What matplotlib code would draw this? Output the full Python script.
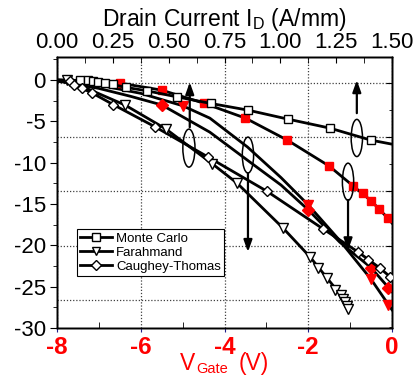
import matplotlib.pyplot as plt
from matplotlib.patches import Ellipse
from matplotlib.lines import Line2D
from matplotlib.ticker import MultipleLocator, FormatStrFormatter

plt.rcParams['font.family'] = ['Liberation Sans', 'DejaVu Sans']
plt.rcParams['mathtext.default'] = 'regular'
plt.rcParams['axes.unicode_minus'] = False

# --- against drain current (top axis, A/mm), open symbols ---
mc_i = [0.103, 0.139, 0.161, 0.184, 0.215, 0.251, 0.309, 0.402, 0.536, 0.688, 0.855, 1.034, 1.222, 1.405]
mc_iy = [0.0, 0.0, -0.12, -0.2, -0.33, -0.52, -0.88, -1.29, -2.02, -2.82, -3.63, -4.72, -5.81, -7.26]
mc_i_line = [0.0, 0.103, 0.215, 0.309, 0.402, 0.536, 0.688, 0.855, 1.034, 1.222, 1.405, 1.5]
mc_iy_line = [-0.1, 0.0, -0.33, -0.88, -1.29, -2.02, -2.82, -3.63, -4.72, -5.81, -7.26, -7.75]

fa_i = [0.045, 0.305, 0.487, 0.694, 0.806, 1.012, 1.133, 1.169, 1.209, 1.245, 1.27, 1.28, 1.29, 1.297, 1.303]
fa_iy = [0.0, -3.02, -5.9, -10.1, -12.46, -17.9, -21.4, -22.7, -23.95, -25.4, -26.0, -26.5, -26.9, -27.3, -27.7]
fa_i_line = [0.0, 0.045, 0.15, 0.305, 0.487, 0.694, 0.806, 1.012, 1.133, 1.209, 1.27, 1.303]
fa_iy_line = [0.05, 0.0, -1.2, -3.02, -5.9, -10.1, -12.46, -17.9, -21.4, -23.95, -26.0, -27.7]

ct_i = [0.058, 0.076, 0.112, 0.157, 0.251, 0.439, 0.676, 0.940, 1.191, 1.348, 1.393, 1.446, 1.491]
ct_iy = [-0.05, -0.6, -1.0, -1.55, -2.95, -5.65, -9.3, -13.45, -18.0, -20.8, -21.75, -22.75, -23.8]
ct_i_line = [0.0, 0.058, 0.112, 0.157, 0.251, 0.439, 0.676, 0.940, 1.191, 1.348, 1.446, 1.5]
ct_iy_line = [0.0, -0.05, -1.0, -1.55, -2.95, -5.65, -9.3, -13.45, -18.0, -20.8, -22.75, -24.0]

# --- against gate voltage (bottom axis, V), red symbols ---
mc_v = [-6.5, -5.5, -4.5, -3.5, -2.5, -1.5, -0.93, -0.69, -0.5, -0.31, -0.1]
mc_vy = [-0.36, -1.21, -2.78, -4.6, -7.26, -10.4, -12.8, -13.64, -14.6, -15.6, -16.7]
mc_v_line = [-8.0, -7.25, -6.5, -5.5, -4.5, -3.5, -2.5, -1.5, -0.93, -0.5, -0.1, 0.0]
mc_vy_line = [-0.05, -0.15, -0.36, -1.21, -2.78, -4.6, -7.26, -10.4, -12.8, -14.6, -16.7, -17.3]

fa_v = [-5.0, -2.0, -0.5, -0.1]
fa_vy = [-3.1, -15.1, -24.1, -27.2]
fa_v_line = [-8.0, -7.0, -6.0, -5.0, -4.35, -3.45, -2.65, -2.0, -1.25, -0.5, 0.0]
fa_vy_line = [-0.1, -0.6, -1.6, -3.1, -4.6, -8.1, -11.8, -15.1, -19.4, -24.1, -27.8]

ct_v = [-5.5, -2.0, -0.5, -0.1]
ct_vy = [-3.0, -15.7, -22.7, -25.2]
ct_v_line = [-8.0, -7.0, -6.25, -5.5, -4.35, -3.45, -2.65, -2.0, -1.25, -0.5, 0.0]
ct_vy_line = [-0.1, -1.0, -1.95, -3.0, -6.3, -9.7, -12.7, -15.7, -19.6, -22.7, -25.6]

labels = ['Monte Carlo', 'Farahmand', 'Caughey-Thomas']
symbols = ['s', 'v', 'D']

fig = plt.figure(figsize=(4.18, 3.77), dpi=100)
ax = fig.add_axes([0.1364, 0.13, 0.8014, 0.7188])
ax_r = ax.twinx()
ax_top = ax.twiny()
ax_r.set_zorder(0)
ax.set_zorder(1)
ax_top.set_zorder(2)
ax.patch.set_visible(False)
ax_top.patch.set_visible(False)

grid_kw = dict(color='0.25', linestyle=(0, (1, 1.5)), linewidth=0.9)

# bottom axis: gate voltage
ax.set_xlim(-8, 0)
ax.set_ylim(-30, 2.8)
ax.set_xticks([-8, -6, -4, -2, 0])
ax.xaxis.set_minor_locator(MultipleLocator(1))
ax.set_yticks(range(-30, 1, 5))
ax.yaxis.set_minor_locator(MultipleLocator(2.5))
ax.tick_params(axis='x', which='major', direction='out', length=3, color='#20208a',
               labelcolor='red', labelsize=17.5, pad=3)
ax.tick_params(axis='x', which='minor', direction='in', length=4)
ax.tick_params(axis='y', which='major', direction='out', length=5, labelsize=16, pad=3)
ax.tick_params(axis='y', which='minor', direction='out', length=3)
for lbl in ax.get_xticklabels():
    lbl.set_fontweight('bold')
ax.grid(axis='x', which='major', **grid_kw)

# gate voltage label built from pieces so the subscript sits like the original
fig.text(180 / 418, 7 / 377, 'V', color='red', fontsize=16.5, va='baseline', ha='left')
fig.text(196 / 418, 4 / 377, 'Gate', color='red', fontsize=10.5, va='baseline', ha='left')
fig.text(239 / 418, 7 / 377, '(V)', color='red', fontsize=16.5, va='baseline', ha='left')

# right axis only carries the horizontal grid
ax_r.set_ylim(-0.516, 4.479)
ax_r.set_yticks(range(5))
ax_r.yaxis.set_minor_locator(MultipleLocator(0.5))
ax_r.tick_params(axis='y', which='major', direction='in', length=4, labelright=False)
ax_r.tick_params(axis='y', which='minor', direction='in', length=2)
ax_r.grid(axis='y', which='major', **grid_kw)

# top axis: drain current
ax_top.set_xlim(0, 1.5)
ax_top.set_xticks([0.0, 0.25, 0.5, 0.75, 1.0, 1.25, 1.5])
ax_top.xaxis.set_major_formatter(FormatStrFormatter('%.2f'))
ax_top.xaxis.set_minor_locator(MultipleLocator(0.125))
ax_top.tick_params(axis='x', which='both', direction='in', length=4, labelsize=16, pad=3)
ax_top.set_xlabel(r'Drain Current I$_\mathregular{D}$ (A/mm)', fontsize=16.5, labelpad=4)

for spine_ax in (ax, ax_r, ax_top):
    for sp in spine_ax.spines.values():
        sp.set_linewidth(1.0)

# curves vs gate voltage
line_kw = dict(color='k', linewidth=2.0, zorder=2)
ax.plot(mc_v_line, mc_vy_line, **line_kw)
ax.plot(fa_v_line, fa_vy_line, **line_kw)
ax.plot(ct_v_line, ct_vy_line, **line_kw)
ax.plot(mc_v, mc_vy, 's', color='red', ms=6, mec='red', zorder=3)
ax.plot(fa_v, fa_vy, 'v', color='red', ms=7, mec='red', zorder=3)
ax.plot(ct_v, ct_vy, 'D', color='red', ms=6, mec='red', zorder=3)

# curves vs drain current
ax_top.plot(mc_i_line, mc_iy_line, **line_kw)
ax_top.plot(fa_i_line, fa_iy_line, **line_kw)
ax_top.plot(ct_i_line, ct_iy_line, **line_kw)
open_kw = dict(linestyle='none', mfc='white', mec='k', mew=1.0, zorder=3)
ax_top.plot(mc_i, mc_iy, marker='s', ms=5.5, **open_kw)
ax_top.plot(fa_i, fa_iy, marker='v', ms=7, **open_kw)
ax_top.plot(ct_i, ct_iy, marker='D', ms=5, **open_kw)

# ellipses grouping curves, arrows point to the axis they belong to
groups = [((-4.85, -8.23), 0.29, 4.6, (-4.83, -5.7), (-4.83, -0.25)),
          ((-3.44, -9.07), 0.27, 4.35, (-3.44, -11.25), (-3.44, -20.8)),
          ((-0.84, -7.0), 0.27, 4.5, (-0.84, -4.0), (-0.84, 0.0)),
          ((-1.05, -12.3), 0.27, 4.5, (-1.05, -14.5), (-1.05, -20.6))]
for center, w, h, tail, tip in groups:
    ax.add_patch(Ellipse(center, w, h, fill=False, ec='k', lw=1.1, zorder=4))
    ax.annotate('', xy=tip, xytext=tail,
                arrowprops=dict(arrowstyle='-|>,head_length=0.7,head_width=0.25',
                                color='k', lw=1.6, shrinkA=0, shrinkB=0), zorder=4)

handles = [Line2D([], [], color='k', lw=2.0, marker=m, mfc='white', mec='k',
                  ms=6 if m != 'D' else 5) for m in symbols]
leg = ax_top.legend(handles, labels, loc='upper left', bbox_to_anchor=(0.06, 0.365),
                    borderaxespad=0, fancybox=False, edgecolor='k', framealpha=1,
                    fontsize=9.5, handlelength=2.4, handletextpad=0.3, borderpad=0.25,
                    labelspacing=0.15)
leg.get_frame().set_linewidth(0.8)

fig.savefig('out.png', dpi=100)
